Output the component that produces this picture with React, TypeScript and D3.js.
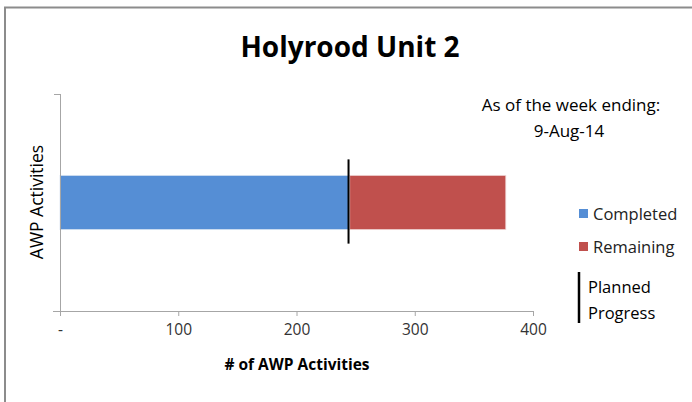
import React, { useEffect, useRef } from "react";
import * as d3 from "d3";

// chart data
const categories = ["AWP Activities"];
const completed = [245];
const remaining = [132];
const planned = [244];
const xTicks = [0, 100, 200, 300, 400];
const legendItems = ["Completed", "Remaining"];
const weekEnding = "9-Aug-14";

const FONT = "'Open Sans', 'Liberation Sans', sans-serif";
const BLUE = "#558ed5";
const RED = "#c0504d";
const AXIS = "#a6a6a6";

const App: React.FC = () => {
  const svgRef = useRef<SVGSVGElement | null>(null);

  useEffect(() => {
    document.body.style.margin = "0";
    const svg = d3.select(svgRef.current);
    svg.selectAll("*").remove();

    const width = 692;
    const height = 402;

    // chart frame
    svg
      .append("path")
      .attr("d", `M5,${height + 2}V7.5H${width + 2}`)
      .attr("fill", "none")
      .attr("stroke", "#8c8c8c")
      .attr("stroke-width", 2);

    const x = d3.scaleLinear().domain([0, 400]).range([60, 533]);
    const y = d3.scaleBand().domain(categories).range([94, 311]).padding(0.6);

    const rows = categories.map((c, i) => ({
      cat: c,
      done: completed[i],
      left: remaining[i],
      plan: planned[i],
    }));

    // bars
    svg
      .selectAll(".done")
      .data(rows)
      .enter()
      .append("rect")
      .attr("x", x(0))
      .attr("y", (d) => y(d.cat) as number)
      .attr("width", (d) => x(d.done) - x(0))
      .attr("height", y.bandwidth())
      .attr("fill", BLUE)
      .attr("stroke", "#d9e4f2")
      .attr("stroke-width", 0.8);

    svg
      .selectAll(".left")
      .data(rows)
      .enter()
      .append("rect")
      .attr("x", (d) => x(d.done))
      .attr("y", (d) => y(d.cat) as number)
      .attr("width", (d) => x(d.done + d.left) - x(d.done))
      .attr("height", y.bandwidth())
      .attr("fill", RED)
      .attr("stroke", "#f0d6d5")
      .attr("stroke-width", 0.8);

    // x axis
    const xAxis = svg
      .append("g")
      .attr("transform", `translate(0,${y.range()[1]})`)
      .call(
        d3
          .axisBottom(x)
          .tickValues(xTicks)
          .tickSize(5)
          .tickPadding(8)
          .tickFormat((d) => (d === 0 ? "-" : String(d)))
      );
    xAxis.select(".domain").attr("stroke", AXIS).attr("d", `M53,0.5H${x(400)}`);
    xAxis.selectAll(".tick line").attr("stroke", AXIS);
    xAxis
      .selectAll(".tick text")
      .attr("fill", "#333")
      .style("font-family", FONT)
      .style("font-size", "15.5px");

    // y axis
    const yAxis = svg.append("g").attr("transform", `translate(${x(0)},0)`);
    yAxis
      .append("line")
      .attr("x1", 0.5)
      .attr("x2", 0.5)
      .attr("y1", y.range()[0])
      .attr("y2", y.range()[1])
      .attr("stroke", AXIS);
    yAxis
      .append("line")
      .attr("x1", -6)
      .attr("x2", 0.5)
      .attr("y1", y.range()[0] + 0.5)
      .attr("y2", y.range()[0] + 0.5)
      .attr("stroke", AXIS);

    // planned progress marker
    svg
      .selectAll(".plan")
      .data(rows)
      .enter()
      .append("line")
      .attr("x1", (d) => x(d.plan))
      .attr("x2", (d) => x(d.plan))
      .attr("y1", (d) => (y(d.cat) as number) - 16)
      .attr("y2", (d) => (y(d.cat) as number) + y.bandwidth() + 14)
      .attr("stroke", "#000")
      .attr("stroke-width", 2);

    // title
    svg
      .append("text")
      .attr("x", 350)
      .attr("y", 57)
      .attr("text-anchor", "middle")
      .style("font-family", FONT)
      .style("font-weight", "bold")
      .style("font-size", "28px")
      .text("Holyrood Unit 2");

    // week ending note
    svg
      .append("text")
      .attr("x", 571)
      .attr("y", 111)
      .attr("text-anchor", "middle")
      .style("font-family", FONT)
      .style("font-size", "17px")
      .attr("fill", "#000")
      .text("As of the week ending:");
    svg
      .append("text")
      .attr("x", 569)
      .attr("y", 137)
      .attr("text-anchor", "middle")
      .style("font-family", FONT)
      .style("font-size", "17px")
      .text(weekEnding);

    // axis titles
    svg
      .append("text")
      .attr("transform", "translate(43,202) rotate(-90)")
      .attr("text-anchor", "middle")
      .style("font-family", FONT)
      .style("font-size", "17.5px")
      .text(categories[0]);

    svg
      .append("text")
      .attr("x", 297)
      .attr("y", 370)
      .attr("text-anchor", "middle")
      .style("font-family", FONT)
      .style("font-weight", "bold")
      .style("font-size", "15.5px")
      .text("# of AWP Activities");

    // legend
    const legend = svg.append("g");
    legendItems.forEach((name, i) => {
      const ly = 209 + i * 33;
      legend
        .append("rect")
        .attr("x", 579)
        .attr("y", ly)
        .attr("width", 9)
        .attr("height", 9)
        .attr("fill", i === 0 ? BLUE : RED);
      legend
        .append("text")
        .attr("x", 593)
        .attr("y", ly + 11)
        .style("font-family", FONT)
        .style("font-size", "16.5px")
        .attr("fill", "#222")
        .text(name);
    });
    legend
      .append("line")
      .attr("x1", 579)
      .attr("x2", 579)
      .attr("y1", 272)
      .attr("y2", 323)
      .attr("stroke", "#000")
      .attr("stroke-width", 2.5);
    legend
      .append("text")
      .attr("x", 588)
      .attr("y", 293)
      .style("font-family", FONT)
      .style("font-size", "16.5px")
      .text("Planned");
    legend
      .append("text")
      .attr("x", 588)
      .attr("y", 319)
      .style("font-family", FONT)
      .style("font-size", "16.5px")
      .text("Progress");
  }, []);

  return <svg ref={svgRef} width={692} height={402} style={{ display: "block", background: "#fff" }} />;
};

export default App;
